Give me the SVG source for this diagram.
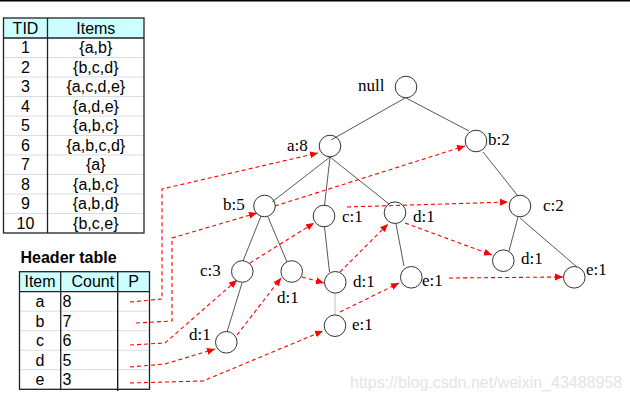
<svg xmlns="http://www.w3.org/2000/svg" width="630" height="401" viewBox="0 0 630 401">
<style>
.tbl{font-family:"Liberation Sans",Arial,sans-serif;font-size:16px;fill:#000}
.c{text-anchor:middle}
.lbl{font-family:"Liberation Serif","Times New Roman",serif;font-size:17px;fill:#000}
.node{fill:none;stroke:#333;stroke-width:1}
.edge{stroke:#444;stroke-width:0.9;fill:none}
.ptr{stroke:#ff0000;stroke-width:1.1;stroke-dasharray:4 3;fill:none}
.rowl{stroke:#d8dce6;stroke-width:1}
.bord{stroke:#222;stroke-width:1.3;fill:none}
</style>
<defs>
<marker id="ah" markerUnits="userSpaceOnUse" markerWidth="10" markerHeight="8" refX="8" refY="4" orient="auto">
<path d="M0,0.5 L8,4 L0,7.5 Z" fill="#ff0000"/>
</marker>
</defs>
<rect x="0" y="0" width="630" height="1.5" fill="#000"/>

<g id="tid-table">
<rect x="3.5" y="18" width="140.5" height="20" fill="#ccffff"/>
<line class="rowl" x1="3.5" y1="57.5" x2="144" y2="57.5"/>
<line class="rowl" x1="3.5" y1="77" x2="144" y2="77"/>
<line class="rowl" x1="3.5" y1="96.5" x2="144" y2="96.5"/>
<line class="rowl" x1="3.5" y1="116" x2="144" y2="116"/>
<line class="rowl" x1="3.5" y1="135.5" x2="144" y2="135.5"/>
<line class="rowl" x1="3.5" y1="155" x2="144" y2="155"/>
<line class="rowl" x1="3.5" y1="174.5" x2="144" y2="174.5"/>
<line class="rowl" x1="3.5" y1="194" x2="144" y2="194"/>
<line class="rowl" x1="3.5" y1="213.5" x2="144" y2="213.5"/>
<line stroke="#222" stroke-width="1.3" x1="3.5" y1="38" x2="144" y2="38"/>
<line stroke="#222" stroke-width="1.3" x1="47.5" y1="18" x2="47.5" y2="233"/>
<rect class="bord" x="3.5" y="18" width="140.5" height="215"/>
<text class="tbl c" x="25.5" y="33.6">TID</text>
<text class="tbl c" x="95.8" y="33.6">Items</text>
<text class="tbl c" x="25.5" y="53.3">1</text><text class="tbl c" x="95.8" y="53.3">{a,b}</text>
<text class="tbl c" x="25.5" y="72.8">2</text><text class="tbl c" x="95.8" y="72.8">{b,c,d}</text>
<text class="tbl c" x="25.5" y="92.3">3</text><text class="tbl c" x="95.8" y="92.3">{a,c,d,e}</text>
<text class="tbl c" x="25.5" y="111.8">4</text><text class="tbl c" x="95.8" y="111.8">{a,d,e}</text>
<text class="tbl c" x="25.5" y="131.3">5</text><text class="tbl c" x="95.8" y="131.3">{a,b,c}</text>
<text class="tbl c" x="25.5" y="150.8">6</text><text class="tbl c" x="95.8" y="150.8">{a,b,c,d}</text>
<text class="tbl c" x="25.5" y="170.3">7</text><text class="tbl c" x="95.8" y="170.3">{a}</text>
<text class="tbl c" x="25.5" y="189.8">8</text><text class="tbl c" x="95.8" y="189.8">{a,b,c}</text>
<text class="tbl c" x="25.5" y="209.3">9</text><text class="tbl c" x="95.8" y="209.3">{a,b,d}</text>
<text class="tbl c" x="25.5" y="228.8">10</text><text class="tbl c" x="95.8" y="228.8">{b,c,e}</text>
</g>

<g id="header-table">
<text x="20.5" y="262.7" font-family="Liberation Sans,Arial,sans-serif" font-size="16" font-weight="bold">Header table</text>
<rect x="19.5" y="271.7" width="130" height="20" fill="#ccffff"/>
<line class="rowl" x1="19.5" y1="311.2" x2="149.5" y2="311.2"/>
<line class="rowl" x1="19.5" y1="330.7" x2="149.5" y2="330.7"/>
<line class="rowl" x1="19.5" y1="350.2" x2="149.5" y2="350.2"/>
<line class="rowl" x1="19.5" y1="369.7" x2="149.5" y2="369.7"/>
<line stroke="#222" stroke-width="1.3" x1="19.5" y1="291.7" x2="149.5" y2="291.7"/>
<line stroke="#222" stroke-width="1.3" x1="60.7" y1="271.7" x2="60.7" y2="389.3"/>
<line stroke="#111" stroke-width="1.3" x1="117.7" y1="271.7" x2="117.7" y2="391"/>
<rect class="bord" x="19.5" y="271.7" width="130" height="117.6"/>
<text class="tbl c" x="40" y="287.3">Item</text>
<text class="tbl" x="71.5" y="287.3">Count</text>
<text class="tbl c" x="133.5" y="287.3">P</text>
<text class="tbl c" x="40" y="307">a</text><text class="tbl" x="62.5" y="307">8</text>
<text class="tbl c" x="40" y="326.5">b</text><text class="tbl" x="62.5" y="326.5">7</text>
<text class="tbl c" x="40" y="346">c</text><text class="tbl" x="62.5" y="346">6</text>
<text class="tbl c" x="40" y="365.5">d</text><text class="tbl" x="62.5" y="365.5">5</text>
<text class="tbl c" x="40" y="385">e</text><text class="tbl" x="62.5" y="385">3</text>
</g>

<g id="connectors">
<path class="edge" d="M405,98 L331,140"/>
<path class="edge" d="M406,98 L469,131"/>
<path class="edge" d="M330,157 L272,202"/>
<path class="edge" d="M330,157 L324.5,205.5"/>
<path class="edge" d="M330,157 L389,204"/>
<path class="edge" d="M483,152 L518,196"/>
<path class="edge" d="M518,217 L509,251"/>
<path class="edge" d="M520,218 L577,267"/>
<path class="edge" d="M261,216 L243,261"/>
<path class="edge" d="M268,217 L287,262"/>
<path class="edge" d="M324.5,227 L329.5,272"/>
<path d="M335,293 L335,315" stroke="#c8c8c8" stroke-width="1.2" fill="none"/>
<path class="edge" d="M242,283 L227,332"/>
<path class="edge" d="M396,224 L404,266"/>

<path class="ptr" marker-end="url(#ah)" d="M130,302 L162,299 L162,189 L318,153"/>
<path class="ptr" marker-end="url(#ah)" d="M136,323 L172,321 L172,238 L257,213"/>
<path class="ptr" marker-end="url(#ah)" d="M130,345 L165,343 L237,280"/>
<path class="ptr" marker-end="url(#ah)" d="M130,367 L165,364 L215,349"/>
<path class="ptr" marker-end="url(#ah)" d="M130,383 L203,381 L323,331"/>
<path class="ptr" marker-end="url(#ah)" d="M275,206 L465,146"/>
<path class="ptr" marker-end="url(#ah)" d="M250,263 L314,223"/>
<path class="ptr" marker-end="url(#ah)" d="M347,207 L508,202"/>
<path class="ptr" marker-end="url(#ah)" d="M237,335 L281,278"/>
<path class="ptr" marker-end="url(#ah)" d="M302,277 L324,283"/>
<path class="ptr" marker-end="url(#ah)" d="M340,272 L388,224"/>
<path class="ptr" marker-end="url(#ah)" d="M405,223 L492,255"/>
<path class="ptr" marker-end="url(#ah)" d="M340,312 L399,283"/>
<path class="ptr" marker-end="url(#ah)" d="M449,278 L563,277"/>
</g>

<g id="n-null"><circle class="node" cx="406" cy="87" r="10.8"/><text class="lbl" x="358" y="91">null</text></g>
<g id="n-a8"><circle class="node" cx="330" cy="146" r="10.8"/><text class="lbl" x="287" y="151">a:8</text></g>
<g id="n-b2"><circle class="node" cx="476" cy="141" r="10.8"/><text class="lbl" x="488" y="145">b:2</text></g>
<g id="n-b5"><circle class="node" cx="264.5" cy="206" r="10.8"/><text class="lbl" x="223" y="210">b:5</text></g>
<g id="n-c1"><circle class="node" cx="324" cy="216" r="10.8"/><text class="lbl" x="342" y="222">c:1</text></g>
<g id="n-d1-a"><circle class="node" cx="395" cy="212.7" r="10.8"/><text class="lbl" x="413" y="222">d:1</text></g>
<g id="n-c2"><circle class="node" cx="520" cy="206" r="10.8"/><text class="lbl" x="543" y="211">c:2</text></g>
<g id="n-c3"><circle class="node" cx="242.3" cy="271.5" r="10.8"/><text class="lbl" x="200" y="276">c:3</text></g>
<g id="n-d1-b5"><circle class="node" cx="291.7" cy="271.5" r="10.8"/><text class="lbl" x="277" y="303">d:1</text></g>
<g id="n-d1-c1"><circle class="node" cx="335.3" cy="282.3" r="10.8"/><text class="lbl" x="353" y="287">d:1</text></g>
<g id="n-e1-c1"><circle class="node" cx="335" cy="325.7" r="10.8"/><text class="lbl" x="352" y="330">e:1</text></g>
<g id="n-d1-c3"><circle class="node" cx="226.3" cy="342.3" r="10.8"/><text class="lbl" x="189" y="340">d:1</text></g>
<g id="n-e1-d1"><circle class="node" cx="411.3" cy="277.3" r="10.8"/><text class="lbl" x="422" y="286">e:1</text></g>
<g id="n-d1-c2"><circle class="node" cx="503.3" cy="260.7" r="10.8"/><text class="lbl" x="521" y="264">d:1</text></g>
<g id="n-e1-c2"><circle class="node" cx="574.3" cy="277.3" r="10.8"/><text class="lbl" x="586" y="275">e:1</text></g>

<text x="350" y="388.3" font-family="Liberation Sans,Arial,sans-serif" font-size="16" fill="#e4e4e4">https://blog.csdn.net/weixin_43488958</text>
</svg>
